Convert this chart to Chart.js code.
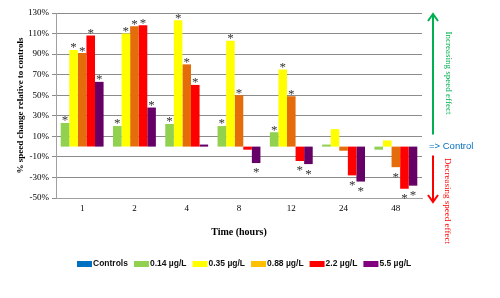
<!DOCTYPE html>
<html>
<head>
<meta charset="utf-8">
<script src="https://cdn.jsdelivr.net/npm/chart.js@4"></script>
<style>
  body { margin: 0; background: #fff; }
  #wrap { width: 500px; height: 298px; }
</style>
</head>
<body>
<div id="wrap"><canvas id="canvas-1" width="500" height="298"></canvas></div>
<script>
    'use strict';

    // data
    var labels = ['1', '2', '4', '8', '12', '24', '48'];
    var seriesNames = ['Controls', '0.14 µg/L', '0.35 µg/L', '0.88 µg/L', '2.2 µg/L', '5.5 µg/L'];
    var controls = [0, 0, 0, 0, 0, 0, 0];
    var c014 = [23, 20, 22, 20, 14, 2, -3];
    var c035 = [94, 110, 123, 103, 75, 17, 6];
    var c088 = [91, 117, 80, 50, 49, -4, -20];
    var c22 = [108, 118, 60, -3, -14, -28, -41];
    var c55 = [63, 38, 2, -16, -17, -34, -38];
    // 1 = asterisk shown
    var sig014 = [1, 1, 1, 1, 1, 0, 0];
    var sig035 = [1, 1, 1, 1, 1, 0, 0];
    var sig088 = [1, 1, 1, 1, 1, 0, 1];
    var sig22 = [1, 1, 1, 0, 1, 1, 1];
    var sig55 = [1, 1, 0, 1, 1, 1, 1];
    var yTicks = { min: -50, max: 130, step: 20 };

    var barColors = ['#0070C0', '#92D050', '#FFFF00', '#E46C0A', '#FF0000', '#660066'];
    var legendColors = ['#0070C0', '#92D050', '#FFFF00', '#FFC000', '#FF0000', '#800080'];
    var sigs = [null, sig014, sig035, sig088, sig22, sig55];
    var serif = '"Liberation Serif", "Times New Roman", serif';
    var sans = '"Liberation Sans", Arial, sans-serif';

    var datasets = [
        {
            type: 'line',
            label: seriesNames[0],
            data: controls,
            showLine: false,
            pointRadius: 0,
            borderColor: barColors[0],
            backgroundColor: barColors[0]
        }
    ];
    var series = [c014, c035, c088, c22, c55];
    for (var i = 0; i < series.length; i++) {
        datasets.push({
            type: 'bar',
            label: seriesNames[i + 1],
            data: series[i],
            backgroundColor: barColors[i + 1],
            borderWidth: 0
        });
    }

    // asterisks over / under bars
    var starPlugin = {
        id: 'stars',
        afterDatasetsDraw: function (chart) {
            var ctx = chart.ctx;
            ctx.save();
            ctx.fillStyle = '#333333';
            ctx.font = '13px ' + serif;
            ctx.textAlign = 'center';
            ctx.textBaseline = 'middle';
            for (var d = 1; d < chart.data.datasets.length; d++) {
                var meta = chart.getDatasetMeta(d);
                var vals = chart.data.datasets[d].data;
                meta.data.forEach(function (bar, j) {
                    if (!sigs[d][j]) return;
                    var y = vals[j] >= 0 ? bar.y - 2 : bar.y + 10;
                    ctx.fillText('*', bar.x, y);
                });
            }
            ctx.restore();
        }
    };

    // arrows, side notes and legend
    var notesPlugin = {
        id: 'notes',
        afterDraw: function (chart) {
            var ctx = chart.ctx;
            var area = chart.chartArea;
            var y0 = chart.scales.y.getPixelForValue(0);
            var ax = area.right + 11;
            ctx.save();

            function arrow(color, yFrom, yTo) {
                var dir = yTo < yFrom ? 1 : -1;
                ctx.strokeStyle = color;
                ctx.lineWidth = 2;
                ctx.beginPath();
                ctx.moveTo(ax, yFrom);
                ctx.lineTo(ax, yTo);
                ctx.moveTo(ax - 5, yTo + dir * 7);
                ctx.lineTo(ax, yTo);
                ctx.lineTo(ax + 5, yTo + dir * 7);
                ctx.stroke();
            }
            arrow('#00B050', y0 - 12, area.top + 1);
            arrow('#FF0000', y0 + 9, area.bottom + 4);

            ctx.font = '9px ' + serif;
            ctx.textAlign = 'center';
            ctx.textBaseline = 'middle';
            ctx.save();
            ctx.translate(ax + 15, 73);
            ctx.rotate(Math.PI / 2);
            ctx.fillStyle = '#00B050';
            ctx.fillText('Increasing speed effect', 0, 0);
            ctx.restore();
            ctx.save();
            ctx.translate(ax + 14, 201);
            ctx.rotate(Math.PI / 2);
            ctx.fillStyle = '#FF0000';
            ctx.fillText('Decreasing speed effect', 0, 0);
            ctx.restore();

            ctx.font = '9.5px ' + sans;
            ctx.textAlign = 'left';
            ctx.fillStyle = '#0070C0';
            ctx.fillText('=> Control', area.right + 7, y0);

            // legend
            ctx.font = 'bold 8.5px ' + sans;
            var x = 77, ly = 264;
            for (var k = 0; k < seriesNames.length; k++) {
                ctx.fillStyle = legendColors[k];
                ctx.fillRect(x, ly - 3, 15, 6);
                x += 16;
                ctx.fillStyle = '#111';
                ctx.fillText(seriesNames[k], x, ly);
                x += ctx.measureText(seriesNames[k]).width + 6;
            }
            ctx.restore();
        }
    };

    var ctx = document.getElementById('canvas-1');
    var chart = new Chart(ctx, {
        data: { labels: labels, datasets: datasets },
        plugins: [starPlugin, notesPlugin],
        options: {
            responsive: false,
            animation: false,
            layout: { padding: { top: 13, right: 78, bottom: 50, left: 0 } },
            datasets: {
                bar: { categoryPercentage: 0.82, barPercentage: 1.0 }
            },
            plugins: {
                legend: { display: false },
                tooltip: { enabled: false }
            },
            scales: {
                x: {
                    offset: true,
                    grid: { display: false, drawTicks: false },
                    border: { display: true, color: '#a0a0a0' },
                    ticks: { color: '#000', padding: 5, font: { family: serif, size: 9 } },
                    title: {
                        display: true,
                        text: 'Time (hours)',
                        color: '#000',
                        font: { family: serif, size: 10, weight: 'bold' },
                        padding: { top: 0, bottom: 10 }
                    },
                    afterFit: function (scale) { scale.height = 50; }
                },
                y: {
                    min: yTicks.min,
                    max: yTicks.max,
                    grid: { color: '#8c8c8c', tickLength: 4 },
                    border: { display: true, color: '#a0a0a0' },
                    ticks: {
                        stepSize: yTicks.step,
                        color: '#000',
                        padding: 3,
                        font: { family: serif, size: 9 },
                        callback: function (v) { return v + '%'; }
                    },
                    title: {
                        display: true,
                        text: '% speed change relative to controls',
                        color: '#000',
                        font: { family: serif, size: 9, weight: 'bold' },
                        padding: { top: 15, bottom: 0 }
                    },
                    afterFit: function (scale) { scale.width = 56; }
                }
            }
        }
    });
</script>
</body>
</html>
